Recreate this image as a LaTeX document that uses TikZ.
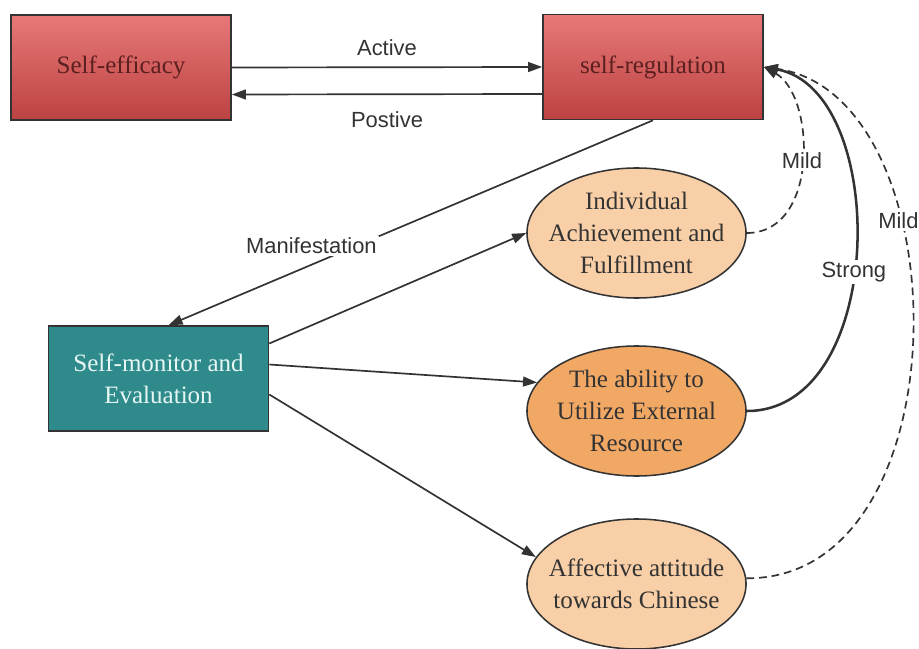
\documentclass[tikz,border=0pt]{standalone}
\usepackage{fontspec}
\setmainfont{Liberation Serif}
\newfontfamily\lblfont{Liberation Sans}
\usetikzlibrary{calc,shapes.geometric,arrows.meta}
\definecolor{linecol}{HTML}{333333}
\definecolor{redtop}{HTML}{E87878}
\definecolor{redbot}{HTML}{BC4242}
\definecolor{redtxt}{HTML}{5C1F1F}
\definecolor{tealfill}{HTML}{2F8A8C}
\definecolor{tealtxt}{HTML}{E6F7F3}
\definecolor{peach}{HTML}{F8CFA6}
\definecolor{orng}{HTML}{F2A865}

\begin{document}
\begin{tikzpicture}[x=0.025cm,y=-0.025cm,
  box/.style={draw=linecol, line width=1.1pt, minimum width=5.5cm, minimum height=2.625cm, align=center, font=\fontsize{17.8}{22.8}\selectfont},
  redbox/.style={box, top color=redtop, bottom color=redbot, text=redtxt},
  tealbox/.style={box, fill=tealfill, text=tealtxt},
  ell/.style={ellipse, draw=linecol, line width=1.1pt, minimum width=5.475cm, minimum height=3.25cm, inner xsep=-14pt, inner ysep=-2pt, align=center, text=black!80, font=\fontsize{17.8}{22.8}\selectfont},
  lbl/.style={font=\lblfont\fontsize{15.6}{18}\selectfont, text=linecol, inner sep=1.5pt},
  arr/.style={draw=linecol, line width=1.2pt, -{Triangle[length=10pt,width=7pt]}},
  dasharr/.style={arr, dash pattern=on 5.5pt off 3.5pt}]
  \useasboundingbox (0,0) rectangle (919,649);
  % boxes
  \node[redbox] (seff) at (121,67.5) {Self-efficacy};
  \node[redbox] (sreg) at (653,67) {self-regulation};
  \node[tealbox] (smon) at (158.5,378.5) {Self-monitor and\\Evaluation};
  % ellipses
  \node[ell, fill=peach] (ach) at (636.5,233) {Individual\\Achievement and\\Fulfillment};
  \node[ell, fill=orng] (ext) at (636.5,411) {The ability to\\Utilize External\\Resource};
  \node[ell, fill=peach] (aff) at (636.5,584) {Affective attitude\\towards Chinese};
  % top arrows
  \draw[arr] (seff.east) -- (sreg.west) node[lbl, midway, yshift=14pt] {Active};
  \draw[arr] ($(sreg.west)+(0,27)$) -- ($(seff.east)+(0,27)$) node[lbl, midway, yshift=-18pt] {Postive};
  \draw[arr] (sreg.south) -- ($(smon.north)+(10,0)$) node[lbl, fill=white, pos=.705, yshift=13.5pt] {Manifestation};
  % from self-monitor
  \draw[arr] ($(smon.east)+(0,-35)$) -- (ach.west);
  \draw[arr] ($(smon.east)+(0,-14)$) -- (ext.164);
  \draw[arr] ($(smon.east)+(0,16)$) -- (aff.165);
  % back to self-regulation
  \draw[dasharr] (ach.east) .. controls (820,233) and (815,95) .. (sreg.east) node[lbl, fill=white, pos=.5] {Mild};
  \draw[arr, line width=1.8pt] (ext.east) .. controls (888,411) and (890,90) .. (sreg.east) node[lbl, fill=white, pos=.45] {Strong};
  \draw[dasharr] (aff.3) .. controls (966,580) and (962,95) .. (sreg.east) node[lbl, fill=white, pos=.655] {Mild};
\end{tikzpicture}
\end{document}
